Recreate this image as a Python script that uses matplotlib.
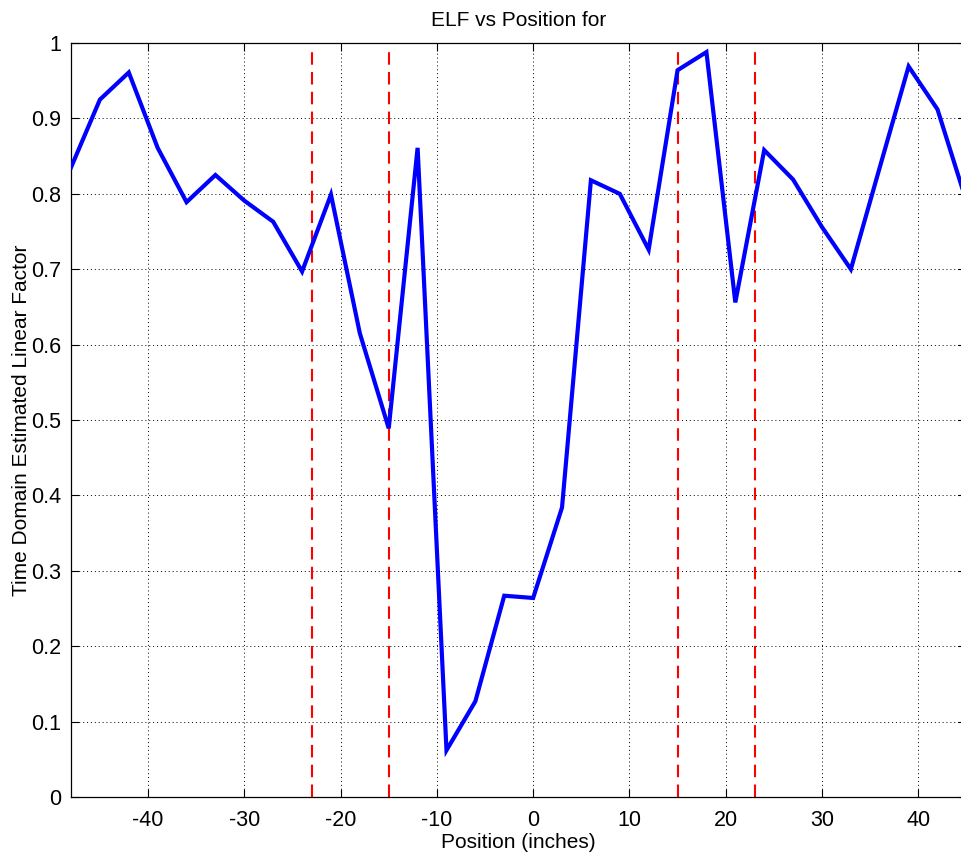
import matplotlib
matplotlib.use("Agg")
import matplotlib.pyplot as plt
from matplotlib.ticker import MultipleLocator as loc
import numpy as np

# position along the track (inches) and estimated linear factor
position = [-48, -45, -42, -39, -36, -33, -30, -27, -24, -21, -18, -15,
            -12, -9, -6, -3, 0, 3, 6, 9, 12, 15, 18, 21, 24, 27, 30, 33,
            36, 39, 42, 45]
elf = [0.835, 0.925, 0.961, 0.861, 0.789, 0.825, 0.791, 0.763, 0.697,
       0.799, 0.615, 0.489, 0.861, 0.062, 0.127, 0.267, 0.264, 0.384,
       0.818, 0.800, 0.726, 0.964, 0.988, 0.656, 0.858, 0.819, 0.756,
       0.700, 0.835, 0.969, 0.912, 0.790]
# boundary markers
boundaries = [-23, -15, 15, 23]
ytick_labels = ["0", "0.1", "0.2", "0.3", "0.4", "0.5", "0.6", "0.7", "0.8", "0.9", "1"]

plt.rcParams["font.family"] = ["Liberation Sans", "DejaVu Sans"]
plt.rcParams["axes.unicode_minus"] = False

fig = plt.figure(figsize=(9.61, 8.61), dpi=100)
ax = fig.add_axes([0.0739, 0.0743, 0.9317, 0.8757])

ax.plot(position, elf, color="#0000ff", linewidth=3.0, solid_joinstyle="miter", zorder=3)
for b in boundaries:
    ax.axvline(b, ymin=0, ymax=0.995, color="#ff0000", linewidth=1.5,
               linestyle=(0, (6, 3.5)), zorder=2)

ax.set_xlim(-48, 45)
ax.set_ylim(0, 1)
ax.xaxis.set_major_locator(loc(10))
ax.set_yticks(np.arange(0, 1.01, 0.1))
ax.set_yticklabels(ytick_labels)
ax.grid(True, color="black", linestyle=(0, (1, 3)), linewidth=0.7)
ax.set_axisbelow(True)
ax.tick_params(direction="in", top=True, right=True, length=6, width=0.8,
               labelsize=15.5, colors="black")
ax.tick_params(axis="x", pad=9)
ax.tick_params(axis="y", pad=7)
for spine in ax.spines.values():
    spine.set_linewidth(0.9)

ax.set_title("ELF vs Position for", fontsize=15, pad=12)
ax.set_xlabel("Position (inches)", fontsize=15, labelpad=2)
ax.set_ylabel("Time Domain Estimated Linear Factor", fontsize=15, labelpad=0)

fig.savefig("out.png", dpi=100)
